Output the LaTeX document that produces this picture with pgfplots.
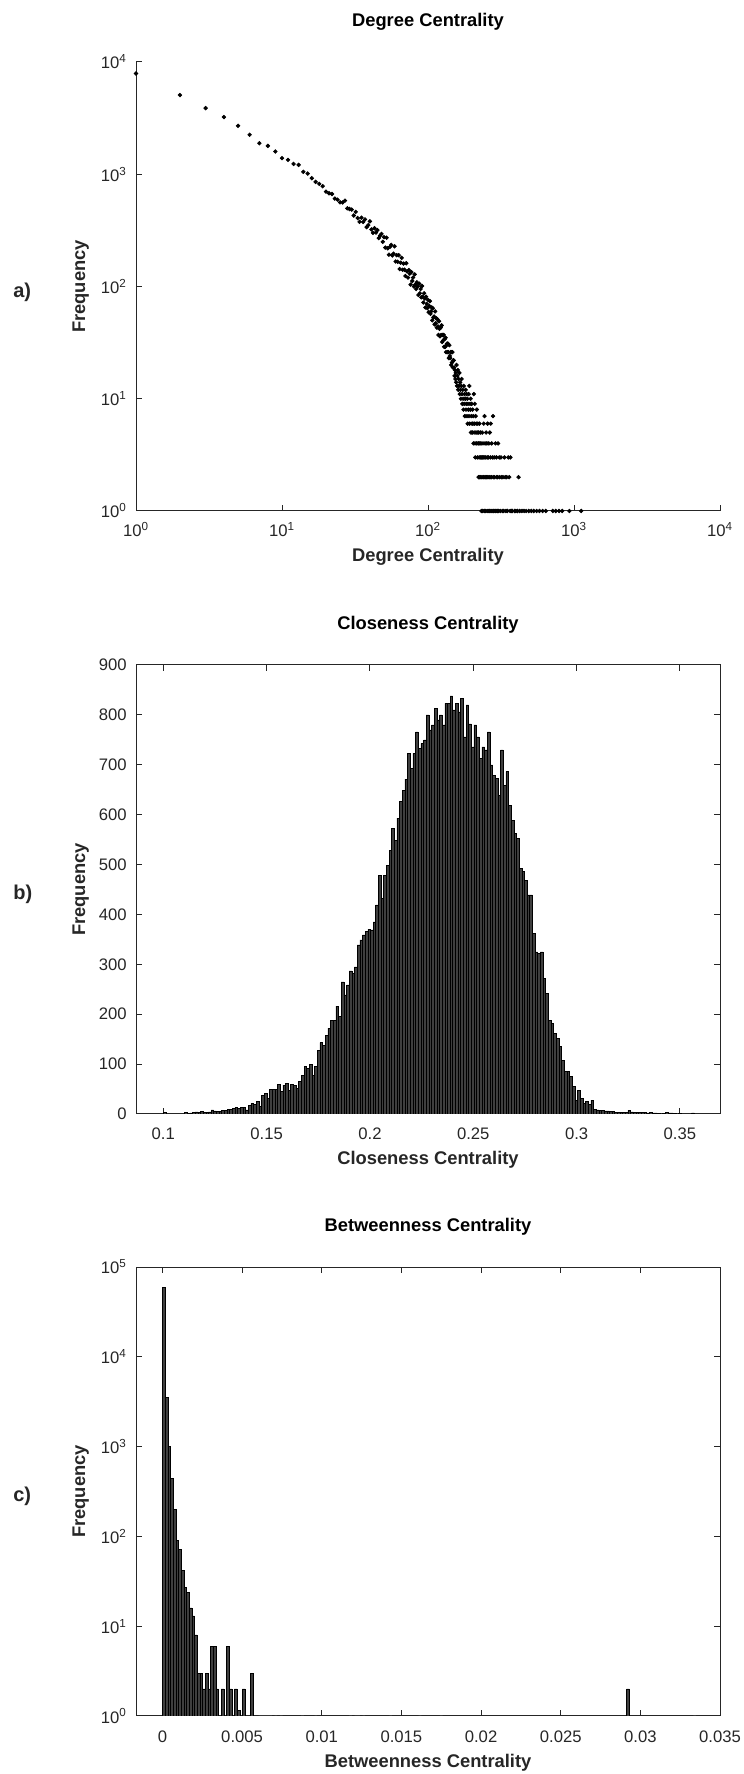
\documentclass[border=0pt]{standalone}
\usepackage{fontspec}
\setmainfont{Liberation Sans}
\usepackage{pgfplots}
\usepackage{pgfplotstable}
\pgfplotsset{compat=1.18}
\definecolor{axgray}{HTML}{262626}
\definecolor{barfill}{HTML}{3F3F3F}

\pgfplotstableread{
b v
0 3
8 3
9 1
10 2
11 3
12 4
13 3
14 5
15 3
16 3
17 4
18 8
19 6
20 5
21 5
22 7
23 7
24 9
25 10
26 11
27 13
28 12
29 13
30 14
31 8
32 18
33 21
34 20
35 26
36 15
37 38
38 41
39 31
40 49
41 49
42 49
43 59
44 46
45 58
46 61
47 48
48 59
49 58
50 51
51 66
52 78
53 95
54 92
55 100
56 78
57 95
58 128
59 143
60 138
61 158
62 172
63 188
64 188
65 216
66 195
67 265
68 239
69 259
70 287
71 282
72 295
73 339
74 349
75 359
76 366
77 370
78 369
79 385
80 419
81 479
82 432
83 479
84 499
85 529
86 573
87 548
88 593
89 626
90 649
91 671
92 723
93 693
94 723
95 766
96 733
97 743
98 750
99 800
100 770
101 780
102 813
103 790
104 800
105 780
106 823
107 823
108 838
109 810
110 823
111 806
112 833
113 756
114 820
115 782
116 736
117 780
118 756
119 713
120 736
121 730
122 766
123 700
124 679
125 673
126 639
127 730
128 659
129 686
130 619
131 589
132 563
133 553
134 492
135 486
136 469
137 439
138 439
139 362
140 325
141 322
142 325
143 272
144 242
145 188
146 182
147 162
148 152
149 135
150 108
151 85
152 85
153 75
154 55
155 28
156 48
157 31
158 21
159 25
160 20
161 28
162 9
163 8
164 7
165 7
166 6
167 6
168 5
169 5
170 3
171 3
172 3
173 3
174 3
175 7
176 4
177 3
178 3
179 3
180 3
181 3
182 2
183 3
184 2
185 2
186 1
188 1
189 3
190 2
191 2
192 1
194 1
199 2
}\histb

\pgfplotstableread{
b v
0 59000
1 3500
2 1000
3 440
4 200
5 90
6 72
7 42
8 27
9 24
10 16
11 13
12 8
13 3
14 3
15 2
16 3
17 2
18 6
19 6
20 2
22 2
24 6
25 2
27 2
28 1.15
30 2
33 3
174 2
}\histc

\pgfplotstableread{
b v
36 1
37 1
38 1
39 1
40 1
42 1
44 1
52 1
57 1
70 1
72 1
73 1
75 1
85 1
96 1
104 1
199 1
}\histcone

\pgfplotsset{
  myaxis/.style={
    scale only axis, width=350.4pt, height=269.4pt, anchor=south west,
    tick align=inside,
    major tick length=3.6pt, minor tick length=1.8pt,
    axis line style={axgray, line width=0.6pt},
    tick style={axgray, line width=0.6pt},
    tick label style={font=\fontsize{10}{12}\selectfont, text=axgray, inner sep=0pt},
    xticklabel style={anchor=base, yshift=-15.6pt},
    yticklabel style={anchor=east, xshift=-5.4pt},
    title style={font=\bfseries\fontsize{11}{13}\selectfont, at={(axis description cs:0.5,1)}, anchor=base, yshift=15.4pt},
    xlabel style={font=\bfseries\fontsize{11}{13}\selectfont, text=axgray, at={(axis description cs:0.5,0)}, anchor=base, yshift=-30.6pt},
    ylabel style={font=\bfseries\fontsize{11}{13}\selectfont, text=axgray, at={(axis description cs:-0.08733,0.5)}, anchor=base},
    scaled ticks=false,
  }
}

\begin{document}
\begin{tikzpicture}
\useasboundingbox (0,0) rectangle (446.4pt,1064.4pt);

% ---------------- a) Degree centrality ----------------
\begin{axis}[myaxis, at={(81.6pt,757.8pt)},
  xmode=log, ymode=log, log basis x=10, log basis y=10,
  xmin=1, xmax=10000, ymin=1, ymax=10000,
  axis x line*=bottom, axis y line*=left,
  x axis line style={-}, y axis line style={-},
  xtick={1,10,100,1000,10000},
  xticklabels={10\textsuperscript{0},10\textsuperscript{1},10\textsuperscript{2},10\textsuperscript{3},10\textsuperscript{4}},
  ytick={1,10,100,1000,10000},
  yticklabels={10\textsuperscript{0},10\textsuperscript{1},10\textsuperscript{2},10\textsuperscript{3},10\textsuperscript{4}},
  title={Degree Centrality}, xlabel={Degree Centrality}, ylabel={Frequency},
  clip=false]
\addplot[only marks, mark=*, mark size=1.1pt, black] coordinates {
(1,7900)(2,5070)(3,3880)(4,3230)(5,2700)(6,2245)(7,1890)(8,1790)(9,1594)(10,1390)
(11,1343)(12,1236)(13,1211)(14,1050)(15,1014)(16,921)(17,855)(18,820)(19,782)(20,700)
(21,677)(22,667)(23,607)(24,594)(25,562)(26,560)(27,582)(28,497)(29,490)
(30,484)(31,429)(32,462)(33,407)(34,377)(35,410)(36,376)(37,396)(38,338)(39,352)
(40,380)(41,322)(42,300)(43,330)(44,302)(45,318)(46,270)(47,284)(48,294)(49,250)
(50,275)(51,222)(52,272)(53,219)(54,192)(55,226)(56,235)(57,189)(58,196)(59,228)
(60,167)(61,190)(62,166)(63,190)(64,143)(65,163)(66,180)(67,141)(68,160)(69,141)
(70,124)(71,161)(72,136)(73,120)(74,140)(75,130)(76,104)(77,134)(78,112)(79,120)
(80,100)(81,128)(82,104)(83,95)(84,109)(85,100)(86,84)(87,106)(88,87)(89,95)
(90,80)(91,101)(92,81)(93,72)(94,87)(95,78)(96,65)(97,81)(98,70)(99,64)
(100,76)(101,59)(102,67)(103,74)(104,57)(105,60)(106,65)(107,50)(108,64)(109,53)
(110,54)(111,46)(112,60)(113,47)(114,52)(115,43)(116,51)(117,44)(118,37)(119,49)
(120,42)(121,36)(122,43)(123,37)(124,45)(125,32)(126,37)(127,33)(128,37)(129,29)
(130,34)(131,29)(132,35)(133,26)(134,30)(135,31)(136,26)(137,31)(138,26)(139,23)
(140,30)(141,24)(142,23)(143,26)(144,20)(145,26)(146,21)(147,26)(148,19)(149,22)
(150,22)(151,19)(152,16)(153,18)(154,15)(155,17)(156,14)(157,20)(158,13)(159,16)(160,18)
(161,12)(162,15)(163,13)(164,17)(165,11)(166,14)(167,12)(168,10)(169,13)(170,15)
(171,11)(172,9)(173,12)(174,10)(175,8)(176,13)(177,9)(178,11)(179,7)(180,10)
(181,12)(182,8)(183,9)(184,11)(185,7)(186,10)(187,6)(188,9)(189,8)(190,11)
(191,7)(192,13)(193,6)(194,9)(195,8)(196,10)(197,5)(198,7)(199,9)(200,6)
(201,5)(202,8)(203,6)(204,7)(205,4)(206,11)(207,5)(208,6)(209,9)(210,4)
(211,3)(212,7)(213,5)(214,6)(215,4)(216,8)(217,5)(218,3)(219,6)(220,4)
(221,5)(222,2)(223,4)(224,3)(225,6)(226,2)(227,4)(228,5)(229,3)(230,2)
(231,4)(232,1)(233,3)(234,2)(235,5)(236,3)(237,1)(238,4)(239,2)(240,3)
(241,6)(242,2)(243,1)(244,7)(245,3)(246,4)(247,2)(248,1)(249,3)(250,5)
(252,2)(253,4)(254,1)(255,3)(256,6)(257,2)(258,1)(260,3)(261,4)(262,2)
(263,1)(265,5)(266,2)(268,3)(269,6)(270,1)(272,2)(273,4)(275,1)(277,3)
(279,7)(280,2)(282,1)(284,3)(286,2)(288,1)(290,4)(292,1)(294,3)(296,2)
(298,1)(300,2)(302,4)(305,1)(308,3)(310,2)(313,1)(316,3)(320,2)(323,1)
(326,2)(330,1)(334,3)(338,2)(342,1)(346,2)(350,1)(355,3)(360,2)(365,1)
(367,3)(372,1)(378,1)(393,1)(400,1)(410,1)(417,2)(425,1)(440,1)(455,1)
(470,1)(490,1)(510,1)(530,1)(555,1)(580,1)(610,1)(641,1)(716,1)(750,1)
(790,1)(830,1)(930,1)(1120,1)
};
\end{axis}

% ---------------- b) Closeness centrality ----------------
\begin{axis}[myaxis, at={(81.6pt,396pt)},
  xmin=0.0868, xmax=0.3694, ymin=0, ymax=900,
  xtick={0.1,0.15,0.2,0.25,0.3,0.35},
  xticklabels={0.1,0.15,0.2,0.25,0.3,0.35},
  ytick={0,100,200,300,400,500,600,700,800,900},
  yticklabels={0,100,200,300,400,500,600,700,800,900},
  title={Closeness Centrality}, xlabel={Closeness Centrality}, ylabel={Frequency}]
\addplot[ybar, bar shift=0pt, bar width=0.001285, fill=barfill, draw=black, line width=0.3pt]
  table[x expr=\thisrow{b}*0.001285+0.1006425, y=v] {\histb};
\end{axis}

% ---------------- c) Betweenness centrality ----------------
\begin{axis}[myaxis, at={(81.6pt,34.8pt)},
  ymode=log, log basis y=10,
  xmin=-0.00166, xmax=0.035, ymin=1, ymax=100000,
  xtick={0,0.005,0.01,0.015,0.02,0.025,0.03,0.035},
  xticklabels={0,0.005,0.01,0.015,0.02,0.025,0.03,0.035},
  ytick={1,10,100,1000,10000,100000},
  yticklabels={10\textsuperscript{0},10\textsuperscript{1},10\textsuperscript{2},10\textsuperscript{3},10\textsuperscript{4},10\textsuperscript{5}},
  title={Betweenness Centrality}, xlabel={Betweenness Centrality}, ylabel={Frequency}]
\addplot[ybar, bar shift=0pt, bar width=0.0001675, fill=gray!60, draw=gray!70, line width=0.5pt]
  table[x expr=\thisrow{b}*0.0001675+0.00008375, y=v] {\histcone};
\addplot[ybar, bar shift=0pt, bar width=0.0001675, fill=barfill, draw=black, line width=0.3pt]
  table[x expr=\thisrow{b}*0.0001675+0.00008375, y=v] {\histc};
\end{axis}

\node[font=\bfseries\fontsize{12}{14}\selectfont, anchor=base west, inner sep=0pt, text=axgray] at (7.8pt,886pt) {a)};
\node[font=\bfseries\fontsize{12}{14}\selectfont, anchor=base west, inner sep=0pt, text=axgray] at (7.8pt,524.4pt) {b)};
\node[font=\bfseries\fontsize{12}{14}\selectfont, anchor=base west, inner sep=0pt, text=axgray] at (7.8pt,163.2pt) {c)};
\end{tikzpicture}
\end{document}
